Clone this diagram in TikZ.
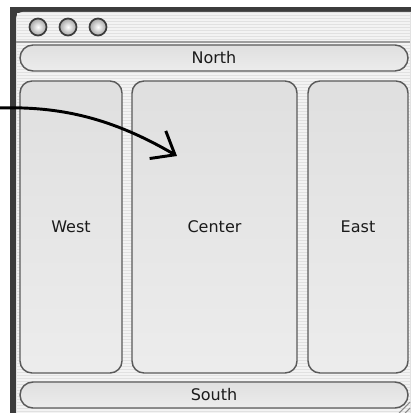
\documentclass[tikz,border=0pt]{standalone}
\usepackage{fontspec}
\newfontfamily\guifont{DejaVu Sans}
\usetikzlibrary{arrows.meta}

\definecolor{framedark}{HTML}{3C3C3C}
\definecolor{stripebase}{HTML}{E1E1E1}
\definecolor{stripelight}{HTML}{F3F3F3}
\definecolor{panelfill}{HTML}{E6E6E6}
\definecolor{paneledge}{HTML}{5A5A5A}
\definecolor{labelgray}{HTML}{1A1A1A}

\tikzset{every picture/.style={line width=0.75pt}}
\tikzset{
  panel/.style={draw=paneledge, line width=1.1pt, top color=panelfill!97!black, bottom color=panelfill!75!white, middle color=panelfill,
    rounded corners=9pt, inner sep=0.75pt, text=labelgray, font=\guifont\fontsize{12}{14}\selectfont},
  barpanel/.style={panel, rounded corners=9.75pt, minimum width=291pt, minimum height=19.5pt},
  sidepanel/.style={panel, minimum height=219pt},
  winbutton/.style={draw=framedark, line width=1.3pt, inner color=white, outer color=black!35},
}

\begin{document}
\begin{tikzpicture}[x=0.75pt,y=0.75pt,yscale=-1,xscale=1]
	\useasboundingbox (0,0) rectangle (410,413);
	
	%Window frame
	\fill [framedark] (10,7) rectangle (430,430);
	\fill [stripebase, rounded corners=5pt] (16,12) rectangle (430,430);
	%Pinstripes
	\foreach \y in {14,17,...,413} {
		\draw [stripelight, line width=1pt] (17,\y) -- (410,\y);
	}
	%Title bar separator
	\draw [black!38, line width=1.5pt] (16,42) -- (410,42);
	
	%Title bar buttons
	\shade [winbutton] (38,27) circle [radius=8.5];
	\shade [winbutton] (68,27) circle [radius=8.5];
	\shade [winbutton] (98,27) circle [radius=8.5];
	
	% Regions
	\node [barpanel] (north) at (214,58) {North};
	\node [sidepanel, minimum width=76.5pt] (west) at (71,227) {West};
	\node [sidepanel, minimum width=123.75pt] (center) at (214.5,227) {Center};
	\node [sidepanel, minimum width=75pt] (east) at (358,227) {East};
	\node [barpanel] (south) at (214,395) {South};
	
	%Resize grip
	\draw [black!45, line width=0.8pt] (399,413) -- (410,402);
	\draw [black!45, line width=0.8pt] (405,413) -- (410,408);
	
	%Hand drawn arrow into the center region
	\coordinate (start) at (-2,108);
	\coordinate (tip) at (177,156);
	\draw [line width=2.2pt, line cap=round, -{Straight Barb[length=15pt, width=24pt, line width=2.2pt]}] (start) .. controls (60,106) and (112,118) .. (tip);
	
\end{tikzpicture}
\end{document}
